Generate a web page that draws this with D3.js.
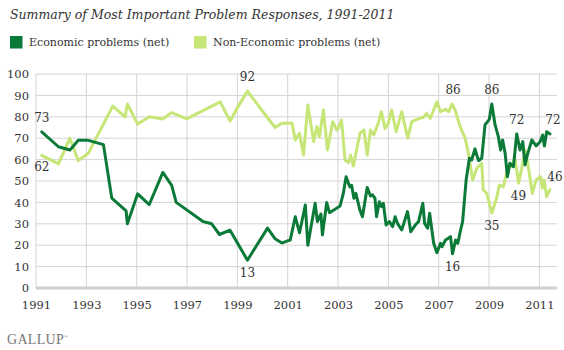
<!DOCTYPE html>
<html>
<head>
<meta charset="utf-8">
<script src="https://cdn.jsdelivr.net/npm/d3@7"></script>
<style>
  body { margin: 0; background: #fff; }
  svg text { font-family: "DejaVu Serif", Georgia, serif; fill: #333; }
  .grid line { stroke: #d4d4d4; stroke-width: 1; }
  .line { fill: none; stroke-width: 3; stroke-linejoin: round; stroke-linecap: round; }
</style>
</head>
<body>
<div id="chart"></div>
<script>
// decimal year of each poll, and % naming that kind of problem
var econDates = [1991.23, 1991.89, 1992.35, 1992.68, 1993.08, 1993.68, 1994.01, 1994.58, 1994.63, 1995.04,
  1995.5, 1996.04, 1996.39, 1996.57, 1997.65, 1997.98, 1998.29, 1998.71, 1999.4, 2000.2,
  2000.5, 2000.77, 2000.99, 2001.1, 2001.3, 2001.47, 2001.7, 2001.8, 2002.09, 2002.18,
  2002.32, 2002.38, 2002.55, 2002.66, 2002.88, 2003.08, 2003.21, 2003.32, 2003.47, 2003.54,
  2003.63, 2003.71, 2003.87, 2003.97, 2004.16, 2004.29, 2004.37, 2004.47, 2004.53, 2004.64,
  2004.73, 2004.8, 2004.91, 2005.04, 2005.17, 2005.27, 2005.36, 2005.53, 2005.76, 2005.89,
  2006.07, 2006.2, 2006.37, 2006.44, 2006.56, 2006.64, 2006.8, 2006.93, 2007.07, 2007.13,
  2007.27, 2007.47, 2007.55, 2007.67, 2007.76, 2007.87, 2007.95, 2008.09, 2008.22, 2008.31,
  2008.44, 2008.58, 2008.71, 2008.84, 2009.01, 2009.11, 2009.24, 2009.37, 2009.46, 2009.54,
  2009.64, 2009.73, 2009.83, 2009.97, 2010.1, 2010.23, 2010.34, 2010.43, 2010.52, 2010.7,
  2010.87, 2011.03, 2011.13, 2011.2, 2011.29, 2011.42];
var econValues = [73, 66, 64.5, 69, 69, 67, 42, 36, 30, 44,
  39, 54, 48, 40, 31, 30, 25, 27, 13, 28,
  23, 21, 22, 22.4, 33.3, 25.8, 38.8, 20, 39.6, 31,
  34.6, 24.8, 39.9, 35.2, 36.8, 38.3, 44.2, 52, 47.2, 48,
  41.9, 44.2, 36.4, 33.3, 47, 43, 43.5, 41.9, 33.3, 40.3,
  38, 39.6, 29.4, 31, 28.7, 33.3, 30.2, 27.1, 35.7, 26.3,
  29.4, 31, 39.6, 30.2, 27.9, 34.9, 20.9, 16.5, 20.9, 19.3,
  22.4, 24, 16, 22.4, 20.9, 27.1, 31, 50.5, 60.6, 59.8,
  65, 59.5, 60.6, 76.2, 78.8, 86, 76.2, 70.7, 64.5, 69.2,
  62.9, 52, 58.3, 56.7, 72, 64.5, 68.4, 57.5, 62.1, 69.2,
  66.4, 68.4, 71.5, 66.4, 73, 72];

var nonEconDates = [1991.23, 1991.89, 1992.35, 1992.68, 1993.08, 1994.05, 1994.54, 1994.63, 1995.04, 1995.5,
  1996.04, 1996.39, 1996.99, 1998.32, 1998.71, 1999.04, 1999.4, 2000.04, 2000.5, 2000.77,
  2001.1, 2001.17, 2001.3, 2001.47, 2001.63, 2001.8, 2002.03, 2002.16, 2002.26, 2002.42,
  2002.58, 2002.79, 2002.95, 2003.01, 2003.14, 2003.28, 2003.41, 2003.5, 2003.61, 2003.87,
  2004.03, 2004.16, 2004.29, 2004.42, 2004.5, 2004.6, 2004.72, 2004.87, 2005.0, 2005.13,
  2005.31, 2005.53, 2005.77, 2005.93, 2006.13, 2006.4, 2006.51, 2006.67, 2006.93, 2007.07,
  2007.27, 2007.4, 2007.53, 2007.65, 2007.85, 2008.05, 2008.18, 2008.35, 2008.51, 2008.71,
  2008.77, 2008.91, 2009.11, 2009.3, 2009.41, 2009.57, 2009.77, 2009.9, 2010.03, 2010.17,
  2010.3, 2010.43, 2010.56, 2010.72, 2010.87, 2011.05, 2011.12, 2011.19, 2011.29, 2011.42];
var nonEconValues = [62, 58, 70, 59.5, 63, 85, 80, 86, 76.6, 80,
  79, 82, 79, 87, 78, 85, 92, 82, 75, 77,
  77, 77, 69.2, 72.3, 62.1, 85.5, 68.4, 75.4, 70.7, 83.2,
  64.5, 77.7, 73.8, 74.6, 78.5, 59.8, 58.6, 62.1, 57, 72.3,
  73.8, 62.1, 73.8, 71.5, 74, 77, 82.4, 74.6, 77, 83.2,
  73, 82.4, 70, 77.7, 78.8, 79.8, 81.6, 79.3, 87, 82.4,
  83.5, 82.4, 86, 83.2, 75.4, 70, 62.9, 50.5, 55.9, 58.3,
  45.8, 44.2, 35, 41.9, 48.1, 47.3, 57.5, 56.7, 60.6, 49,
  55.9, 64.5, 56.7, 44.2, 50.5, 52, 46.6, 50.5, 42.7, 46];

var yearTicks = [1991, 1993, 1995, 1997, 1999, 2001, 2003, 2005, 2007, 2009, 2011];
var valueTicks = [0, 10, 20, 30, 40, 50, 60, 70, 80, 90, 100];

// callouts: [series, year, value, text, dx, dy]
var callouts = [
  ["econ", 1991.23, 73, "73", 0, -10],
  ["non", 1991.23, 62, "62", 0, 16],
  ["non", 1999.4, 92, "92", 0, -10],
  ["econ", 1999.4, 13, "13", 0, 17],
  ["non", 2007.53, 86, "86", 1, -10],
  ["econ", 2009.11, 86, "86", 0, -10],
  ["econ", 2010.1, 72, "72", 0, -10],
  ["econ", 2011.42, 72, "72", 3, -10],
  ["non", 2010.17, 49, "49", 0, 17],
  ["non", 2011.42, 46, "46", 5, -9],
  ["non", 2009.11, 35, "35", 0, 17],
  ["econ", 2007.55, 16, "16", 0, 17]
];

var colors = { econ: "#0b7a38", non: "#c6e677" };

var width = 564, height = 350;
var margin = { top: 74, left: 36, right: 7, bottom: 62 };

var svg = d3.select("#chart").append("svg")
    .attr("width", width)
    .attr("height", height);

var xScale = d3.scaleLinear()
    .domain([1991, 2011.7])
    .range([margin.left, width - margin.right]);

var yScale = d3.scaleLinear()
    .domain([0, 100])
    .range([height - margin.bottom, margin.top]);

// title
svg.append("text")
    .attr("x", 10)
    .attr("y", 19)
    .style("font-style", "italic")
    .style("font-size", "12.5px")
    .text("Summary of Most Important Problem Responses, 1991-2011");

// legend
var legend = [["econ", "Economic problems (net)", 10], ["non", "Non-Economic problems (net)", 194]];
legend.forEach(function(l) {
    svg.append("rect")
        .attr("x", l[2]).attr("y", 36)
        .attr("width", 12.5).attr("height", 12.5)
        .style("fill", colors[l[0]]);
    svg.append("text")
        .attr("x", l[2] + 19).attr("y", 46)
        .style("font-size", "11px")
        .text(l[1]);
});

// grid
var grid = svg.append("g").attr("class", "grid");
grid.selectAll(".h").data(valueTicks.slice(1)).enter().append("line")
    .attr("x1", margin.left).attr("x2", width - margin.right)
    .attr("y1", function(d) { return yScale(d); })
    .attr("y2", function(d) { return yScale(d); });
grid.selectAll(".v").data(yearTicks).enter().append("line")
    .attr("x1", function(d) { return xScale(d); })
    .attr("x2", function(d) { return xScale(d); })
    .attr("y1", yScale(100)).attr("y2", yScale(0));

// baseline
svg.append("line")
    .attr("x1", margin.left).attr("x2", width - margin.right)
    .attr("y1", yScale(0)).attr("y2", yScale(0))
    .style("stroke", "#cfcfcf").style("stroke-width", 3);

// axes labels
svg.append("g")
    .attr("transform", "translate(0," + (yScale(0) + 10) + ")")
    .call(d3.axisBottom(xScale).tickValues(yearTicks).tickFormat(d3.format("d")).tickSize(0))
    .call(function(g) { g.select(".domain").remove(); })
    .selectAll("text")
    .style("font-size", "11.5px")
    .style("fill", "#333");

svg.append("g")
    .attr("transform", "translate(" + (margin.left - 4) + ",0)")
    .call(d3.axisLeft(yScale).tickValues(valueTicks).tickSize(0))
    .call(function(g) { g.select(".domain").remove(); })
    .selectAll("text")
    .style("font-size", "11.5px")
    .style("fill", "#333");

// lines
var line = d3.line()
    .x(function(d) { return xScale(d[0]); })
    .y(function(d) { return yScale(d[1]); });

svg.append("path")
    .datum(d3.zip(nonEconDates, nonEconValues))
    .attr("class", "line")
    .attr("d", line)
    .style("stroke", colors.non);

svg.append("path")
    .datum(d3.zip(econDates, econValues))
    .attr("class", "line")
    .attr("d", line)
    .style("stroke", colors.econ);

// value callouts
svg.selectAll(".callout").data(callouts).enter().append("text")
    .attr("class", "callout")
    .attr("x", function(d) { return xScale(d[1]) + d[4]; })
    .attr("y", function(d) { return yScale(d[2]) + d[5]; })
    .attr("text-anchor", "middle")
    .style("font-size", "12px")
    .text(function(d) { return d[3]; });

// logo
var logo = svg.append("text")
    .attr("x", 7).attr("y", 344)
    .style("font-family", "'Liberation Serif', serif")
    .style("font-size", "14px")
    .style("fill", "#777")
    .style("letter-spacing", "0.3px")
    .text("GALLUP");
logo.append("tspan")
    .attr("dy", -6)
    .style("font-size", "5px")
    .text("\u00ae");
</script>
</body>
</html>
